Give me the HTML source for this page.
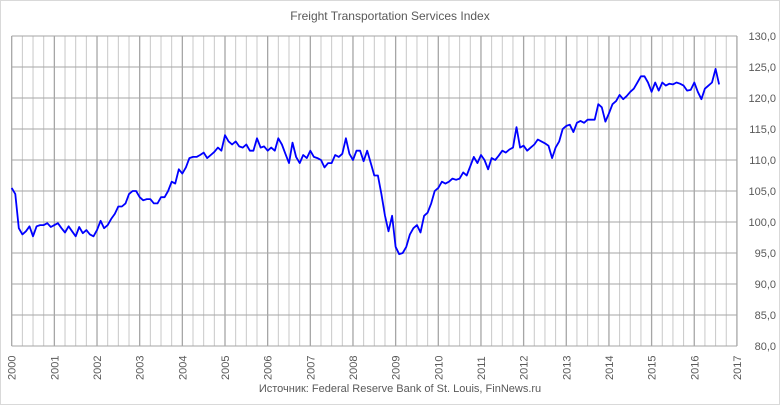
<!DOCTYPE html><html><head><meta charset="utf-8"><style>body{margin:0;background:#fff}svg{font-family:"Liberation Sans",sans-serif}</style></head><body>
<svg width="780" height="405" xmlns="http://www.w3.org/2000/svg">
<rect x="0.5" y="0.5" width="779" height="404" fill="#fff" stroke="#d9d9d9"/>
<text x="390" y="20" font-size="12" fill="#595959" text-anchor="middle">Freight Transportation Services  Index</text>
<g id="g"></g>
<text x="400" y="392" font-size="11" fill="#595959" text-anchor="middle">Источник: Federal Reserve Bank of St. Louis, FinNews.ru</text>
</svg>
<script>
(function(){
var g=document.getElementById('g'),h='';
var x0=11.7,py=42.66,T0=36,B0=346;
for(var q=0;q<=68;q++){var x=x0+q*py/4;h+='<line x1="'+x+'" y1="'+T0+'" x2="'+x+'" y2="'+B0+'" stroke="'+(q%4==0?'#a6a6a6':'#c8c8c8')+'" stroke-width="'+(q%4==0?1.3:1)+'"/>';}
for(var v=80;v<=130;v+=5){var y=T0+(130-v)*6.2;h+='<line x1="'+x0+'" y1="'+y+'" x2="737" y2="'+y+'" stroke="#a6a6a6"/>';h+='<text x="776" y="'+(y+4)+'" font-size="11" fill="#595959" text-anchor="end">'+v+',0</text>';}
h+='<line x1="737" y1="'+T0+'" x2="737" y2="'+B0+'" stroke="#a6a6a6"/>';
for(var yr=2000;yr<=2017;yr++){var x=x0+(yr-2000)*py+4;h+='<text transform="translate('+x+',380) rotate(-90)" font-size="11" fill="#595959">'+yr+'</text>';}
var d=[105.5,104.5,99,98,98.5,99.3,97.7,99.3,99.5,99.5,99.8,99.2,
99.5,99.8,99,98.3,99.3,98.5,97.7,99.2,98.2,98.7,98,97.7,
98.7,100.2,99,99.5,100.5,101.3,102.5,102.5,103,104.5,105,105,
104,103.5,103.7,103.7,103,103,104,104,105,106.5,106.2,108.5,
107.8,108.8,110.3,110.5,110.5,110.8,111.2,110.3,110.8,111.3,112,111.5,
114,113,112.5,113,112.2,112,112.5,111.5,111.5,113.5,112,112.2,
111.5,112,111.5,113.5,112.5,111,109.5,112.8,110.5,109.5,110.8,110.3,
111.5,110.5,110.3,110,108.8,109.5,109.5,110.8,110.5,111,113.5,111,
110,111.5,111.5,109.8,111.5,109.5,107.5,107.5,104.5,101,98.5,101,
96,94.8,95,96,98,99,99.5,98.3,101,101.5,103,105,
105.5,106.5,106.2,106.5,107,106.8,107,108,107.5,109,110.5,109.5,
110.8,110,108.5,110.3,110,110.7,111.5,111.2,111.7,112,115.3,112,
112.3,111.5,112,112.5,113.3,113,112.7,112.3,110.3,112,113,115,
115.5,115.7,114.5,116,116.3,116,116.5,116.5,116.5,119,118.5,116.2,
117.5,119,119.5,120.5,119.8,120.3,121,121.5,122.5,123.5,123.5,122.5,
121,122.5,121.2,122.5,122,122.3,122.2,122.5,122.3,122,121.2,121.3,
122.5,121,119.8,121.5,122,122.5,124.7,122.2];
var p=d.map(function(v,i){return (x0+i*py/12).toFixed(1)+','+(T0+(130-v)*6.2).toFixed(1)}).join(' ');
h+='<polyline points="'+p+'" fill="none" stroke="#0000ff" stroke-width="1.8" stroke-linejoin="round"/>';
g.innerHTML=h;
})();
</script></body></html>
